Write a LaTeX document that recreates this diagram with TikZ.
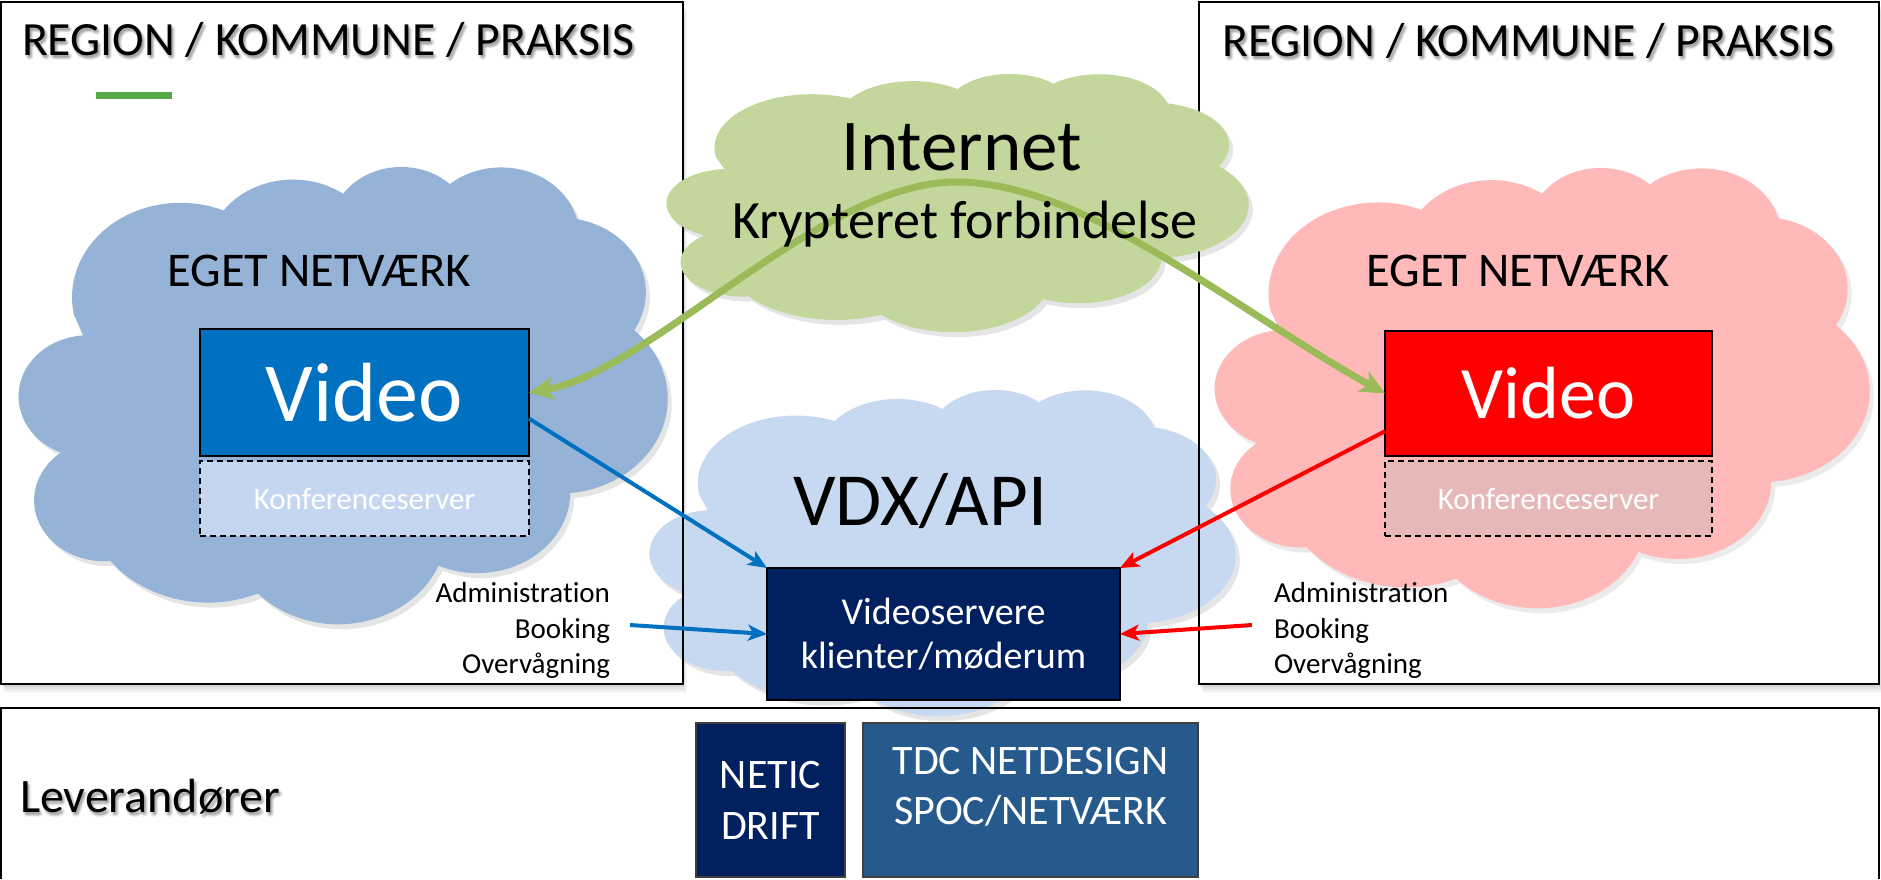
\documentclass[tikz,border=0pt]{standalone}
\usepackage{fontspec}
\setmainfont{Carlito}[Ligatures=NoCommon]
\usetikzlibrary{arrows.meta,calc}
\definecolor{cloudL}{RGB}{149,179,215}
\definecolor{cloudR}{RGB}{255,185,185}
\definecolor{cloudI}{RGB}{195,214,155}
\definecolor{cloudV}{RGB}{198,217,241}
\definecolor{vblue}{RGB}{0,112,192}
\definecolor{vred}{RGB}{255,0,0}
\definecolor{navy}{RGB}{0,32,96}
\definecolor{tdcblue}{RGB}{38,90,140}
\definecolor{konfL}{RGB}{197,215,240}
\definecolor{konfR}{RGB}{230,185,184}
\definecolor{agreen}{RGB}{155,187,89}
\definecolor{dashgreen}{RGB}{87,170,70}

% PowerPoint-like cloud outline: #1,#2 top-left, #3 width, #4 height, #5 options
\newcommand{\pptcloud}[5]{%
  \pgfmathsetmacro\pcx{#3/549.91}%
  \pgfmathsetmacro\pcy{#4/444.35}%
  \path[#5] ({#1+47.25*\pcx},{#2+143.43*\pcy})
    arc[start angle=-190.49, delta angle=123.78, x radius={91.84*\pcx}, y radius={91.90*\pcy}]
    arc[start angle=-144.10, delta angle=89.95, x radius={72.53*\pcx}, y radius={72.67*\pcy}]
    arc[start angle=-145.81, delta angle=99.72, x radius={59.36*\pcx}, y radius={59.45*\pcy}]
    arc[start angle=-130.99, delta angle=117.24, x radius={66.06*\pcx}, y radius={65.95*\pcy}]
    arc[start angle=-78.71, delta angle=109.03, x radius={72.53*\pcx}, y radius={72.73*\pcy}]
    arc[start angle=-46.27, delta angle=130.27, x radius={92.14*\pcx}, y radius={92.20*\pcy}]
    arc[start angle=0.625, delta angle=114.03, x radius={78.68*\pcx}, y radius={78.67*\pcy}]
    arc[start angle=22.45, delta angle=115.17, x radius={91.83*\pcx}, y radius={92.15*\pcy}]
    arc[start angle=66.24, delta angle=75.71, x radius={104.99*\pcx}, y radius={105.43*\pcy}]
    arc[start angle=85.06, delta angle=146.74, x radius={59.30*\pcx}, y radius={59.18*\pcy}]
    arc[start angle=113.17, delta angle=152.52, x radius={59.09*\pcx}, y radius={59.45*\pcy}]
    -- cycle;%
}

\tikzset{
  txt/.style={inner sep=0pt, outer sep=0pt},
  titlefont/.style={font=\fontsize{47.7}{57}\selectfont},
  levfont/.style={font=\fontsize{48}{57}\selectfont},
  region/.style={draw=black, line width=1.8pt, inner sep=0pt, outer sep=0pt},
  solidbox/.style={draw=black, line width=1.6pt, inner sep=0pt, outer sep=0pt, text=white},
  konfbox/.style={draw=black, line width=1.5pt, dash pattern=on 6pt off 4pt, inner sep=0pt, outer sep=0pt, text=white, font=\fontsize{31}{37}\selectfont},
  provbox/.style={draw=black!75, line width=1.6pt, inner sep=0pt, outer sep=0pt, text=white, align=center, font=\fontsize{42}{51}\selectfont},
  garrow/.style={draw=agreen, line width=7pt, {Stealth[length=25pt,width=23pt,inset=7pt]}-{Stealth[length=25pt,width=23pt,inset=7pt]}},
  barrow/.style={draw=vblue, line width=4pt, -{Stealth[length=19pt,width=16pt,inset=5pt]}},
  rarrow/.style={draw=vred, line width=4pt, -{Stealth[length=19pt,width=16pt,inset=5pt]}},
  admfont/.style={font=\fontsize{29}{35.5}\selectfont},
}

% text with soft drop shadow: #1 name, #2 x, #3 y, #4 anchor, #5 style, #6 text
\newcommand{\shtext}[6]{%
  \foreach \dx/\dy [count=\k] in {0/3,2/3,4/3,2/1,2/5,1/4,3/4,1/2,3/2} {%
    \node[txt, #5, anchor=#4, text=black, opacity=0.05] (#1s\k) at (#2+\dx,#3+\dy) {#6};}%
  \node[txt, #5, anchor=#4] (#1) at (#2,#3) {#6};%
}

\begin{document}
\begin{tikzpicture}[x=1pt,y=-1pt]
\useasboundingbox (0,0) rectangle (1881,879);

% ---- region box shadows and white interiors
\foreach \s/\o in {1/0.08,3/0.06,5/0.05,7/0.04,9/0.03} {
  \fill[black,opacity=\o] (1+\s*0.4,2+\s) rectangle (683+\s*0.4,684+\s);
  \fill[black,opacity=\o] (1199+\s*0.4,2+\s) rectangle (1879+\s*0.4,684+\s);
}
\fill[white] (1,2) rectangle (683,684);
\fill[white] (1199,2) rectangle (1879,684);

% ---- VDX cloud (behind box borders)
\pptcloud{653}{395}{587}{326}{fill=black,opacity=0.10}
\pptcloud{649}{390}{587}{326}{fill=cloudV}

% ---- region boxes
\node[region, minimum width=682, minimum height=682, anchor=north west] (regL) at (1,2) {};
\node[region, minimum width=680, minimum height=682, anchor=north west] (regR) at (1199,2) {};
\draw[region] (1,879) -- (1,708) -- (1879,708) -- (1879,879);

% ---- titles
\shtext{titleL}{328}{55}{base}{titlefont}{REGION / KOMMUNE / PRAKSIS}
\shtext{titleR}{1528}{56}{base}{titlefont}{REGION / KOMMUNE / PRAKSIS}
\coordinate (gdA) at (96,95);
\coordinate (gdB) at (172,95);
\draw[dashgreen, line width=7pt] (gdA) -- (gdB);

% ---- side clouds
\pptcloud{22}{172}{650}{457}{fill=black,opacity=0.10}
\pptcloud{18}{167}{650}{457}{fill=cloudL}
\pptcloud{1218}{173}{656}{440}{fill=black,opacity=0.08}
\pptcloud{1214}{168}{656}{440}{fill=cloudR}
\node[txt, font=\fontsize{48.5}{58}\selectfont, anchor=base] (egetL) at (319,286) {EGET NETVÆRK};
\node[txt, font=\fontsize{48.5}{58}\selectfont, anchor=base] (egetR) at (1518,286) {EGET NETVÆRK};

% ---- internet cloud
\pptcloud{670}{79}{583}{258}{fill=black,opacity=0.10}
\pptcloud{666}{74}{583}{258}{fill=cloudI}

% ---- video boxes
\node[solidbox, fill=vblue, minimum width=329, minimum height=127, font=\fontsize{84}{100}\selectfont] (vidL) at (364.5,392.5) {Video};
\node[konfbox, fill=konfL, minimum width=329, minimum height=75] (konfL) at (364.5,498.5) {Konferenceserver};
\node[solidbox, fill=vred, minimum width=327, minimum height=125, font=\fontsize{74}{88}\selectfont] (vidR) at (1548.5,393.5) {Video};
\node[konfbox, fill=konfR, minimum width=327, minimum height=75] (konfR) at (1548.5,498.5) {Konferenceserver};

% ---- encrypted connection
\coordinate (gpeak) at (956,182);
\draw[garrow] (vidL.east) .. controls (650,372) and (820,182) .. (gpeak) .. controls (1085,182) and (1235,310) .. (vidR.west);
\node[txt, font=\fontsize{73}{88}\selectfont, anchor=base] (inetT) at (962,170) {Internet};
\node[txt, font=\fontsize{54}{65}\selectfont, anchor=base] (inetK) at (965,238) {Krypteret forbindelse};

% ---- VDX / API
\node[txt, font=\fontsize{75}{90}\selectfont, anchor=base] (vdxT) at (920,525) {VDX/API};
\node[solidbox, fill=navy, minimum width=353, minimum height=132, align=center, font=\fontsize{38}{44}\selectfont] (vs) at (943.5,634) {Videoservere\\klienter/møderum};

\draw[barrow] (vidL.-9.5) -- (vs.north west);
\draw[rarrow] (vidR.193) -- (vs.north east);

\node[txt, admfont, anchor=base east] (admL1) at (610,602) {Administration};
\node[txt, admfont, anchor=base east] (admL2) at (610,638) {Booking};
\node[txt, admfont, anchor=base east] (admL3) at (610,673) {Overvågning};
\node[txt, admfont, anchor=base west] (admR1) at (1274,602) {Administration};
\node[txt, admfont, anchor=base west] (admR2) at (1274,638) {Booking};
\node[txt, admfont, anchor=base west] (admR3) at (1274,673) {Overvågning};
\coordinate (admLp) at (630,625);
\coordinate (admRp) at (1252,625);
\draw[barrow] (admLp) -- (vs.west);
\draw[rarrow] (admRp) -- (vs.east);

% ---- suppliers
\shtext{levT}{20}{812}{base west}{levfont}{Leverandører}
\node[provbox, fill=navy, minimum width=149, minimum height=154] (netic) at (770.5,800) {NETIC\\DRIFT};
\node[provbox, fill=tdcblue, minimum width=335, minimum height=154] (tdc) at (1030.5,800) {};
\node[txt, align=center, text=white, font=\fontsize{42}{50}\selectfont] (tdcT) at (1030.5,787) {TDC NETDESIGN\\SPOC/NETVÆRK};
\end{tikzpicture}
\end{document}
